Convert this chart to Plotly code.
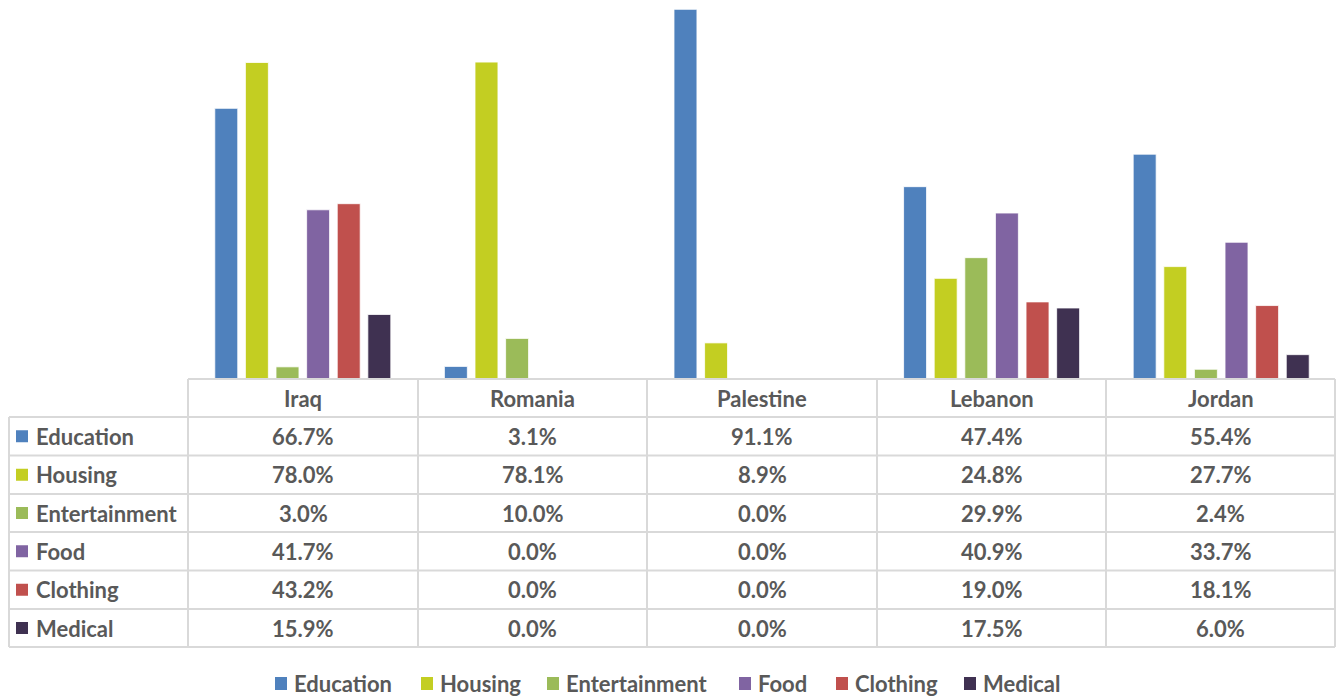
import plotly.graph_objects as go

W, H = 1336, 696
PLOT_LEFT, PLOT_BOTTOM = 188, 379
ML, MR, MT, MB = PLOT_LEFT, 0, 0, H - PLOT_BOTTOM

countries = ["Iraq", "Romania", "Palestine", "Lebanon", "Jordan"]
series_names = ["Education", "Housing", "Entertainment", "Food", "Clothing", "Medical"]
colors = ["#4F81BD", "#C3CE22", "#9BBB59", "#8064A2", "#C0504D", "#3F3151"]

education = [66.7, 3.1, 91.1, 47.4, 55.4]
housing = [78.0, 78.1, 8.9, 24.8, 27.7]
entertainment = [3.0, 10.0, 0.0, 29.9, 2.4]
food = [41.7, 0.0, 0.0, 40.9, 33.7]
clothing = [43.2, 0.0, 0.0, 19.0, 18.1]
medical = [15.9, 0.0, 0.0, 17.5, 6.0]
values = [education, housing, entertainment, food, clothing, medical]

FONT = "Lato"
GREY = "#595959"
GRID = "#D9D9D9"


# pixel -> paper coordinate helpers (pixels from the top-left of the figure)
def px_x(x):
    return (x - ML) / (W - ML - MR)


def px_y(y):
    return (H - MB - y) / (H - MT - MB)


fig = go.Figure()
for name, vals, col in zip(series_names, values, colors):
    fig.add_bar(
        name=name, x=countries, y=vals,
        marker=dict(color=col, line=dict(color="white", width=0.8)),
    )

# data table under the plot
col_edges = [188, 418, 647, 877, 1106, 1335]
row_edges = [379, 417, 455.5, 494, 532, 570.5, 609, 647]
shapes = []
line = dict(color=GRID, width=2)
for i, y in enumerate(row_edges):
    x0 = 188 if i == 0 else 9
    shapes.append(dict(type="line", xref="paper", yref="paper",
                       x0=px_x(x0), x1=px_x(1335), y0=px_y(y), y1=px_y(y), line=line))
shapes.append(dict(type="line", xref="paper", yref="paper",
                   x0=px_x(9), x1=px_x(9), y0=px_y(417), y1=px_y(647), line=line))
for x in col_edges:
    shapes.append(dict(type="line", xref="paper", yref="paper",
                       x0=px_x(x), x1=px_x(x), y0=px_y(379), y1=px_y(647), line=line))

annotations = []
tfont = dict(family=FONT, size=22, color=GREY, weight="bold")


def label(text, x, y, anchor="center"):
    annotations.append(dict(text=text, xref="paper", yref="paper", x=px_x(x), y=px_y(y),
                            xanchor=anchor, yanchor="middle", showarrow=False, font=tfont))


for j, c in enumerate(countries):
    label(c, (col_edges[j] + col_edges[j + 1]) / 2, (row_edges[0] + row_edges[1]) / 2)

for i, (name, vals, col) in enumerate(zip(series_names, values, colors)):
    yc = (row_edges[i + 1] + row_edges[i + 2]) / 2
    shapes.append(dict(type="rect", xref="paper", yref="paper",
                       x0=px_x(16), x1=px_x(28), y0=px_y(yc - 6), y1=px_y(yc + 6),
                       fillcolor=col, line=dict(width=0)))
    label(name, 34, yc, "left")
    for j, v in enumerate(vals):
        label(f"{v:.1f}%", (col_edges[j] + col_edges[j + 1]) / 2, yc)

# legend along the bottom
legend_x = [275, 421, 547, 739, 836, 964]
for name, col, lx in zip(series_names, colors, legend_x):
    shapes.append(dict(type="rect", xref="paper", yref="paper",
                       x0=px_x(lx), x1=px_x(lx + 12), y0=px_y(677), y1=px_y(690),
                       fillcolor=col, line=dict(width=0)))
    label(name, lx + 17, 683, "left")

fig.update_layout(
    width=W, height=H,
    margin=dict(l=ML, r=MR, t=MT, b=MB, autoexpand=False),
    paper_bgcolor="white", plot_bgcolor="white",
    barmode="group", bargap=0.2, bargroupgap=0.25,
    xaxis=dict(showticklabels=False, showgrid=False, zeroline=False, showline=False),
    yaxis=dict(range=[0, 93.4], visible=False),
    shapes=shapes, annotations=annotations,
    showlegend=False,
)

# drop the default 8px body margin so the figure fills the window exactly
fig.write_html("out.html", config={"displayModeBar": False},
               post_script="document.body.style.margin='0';")
